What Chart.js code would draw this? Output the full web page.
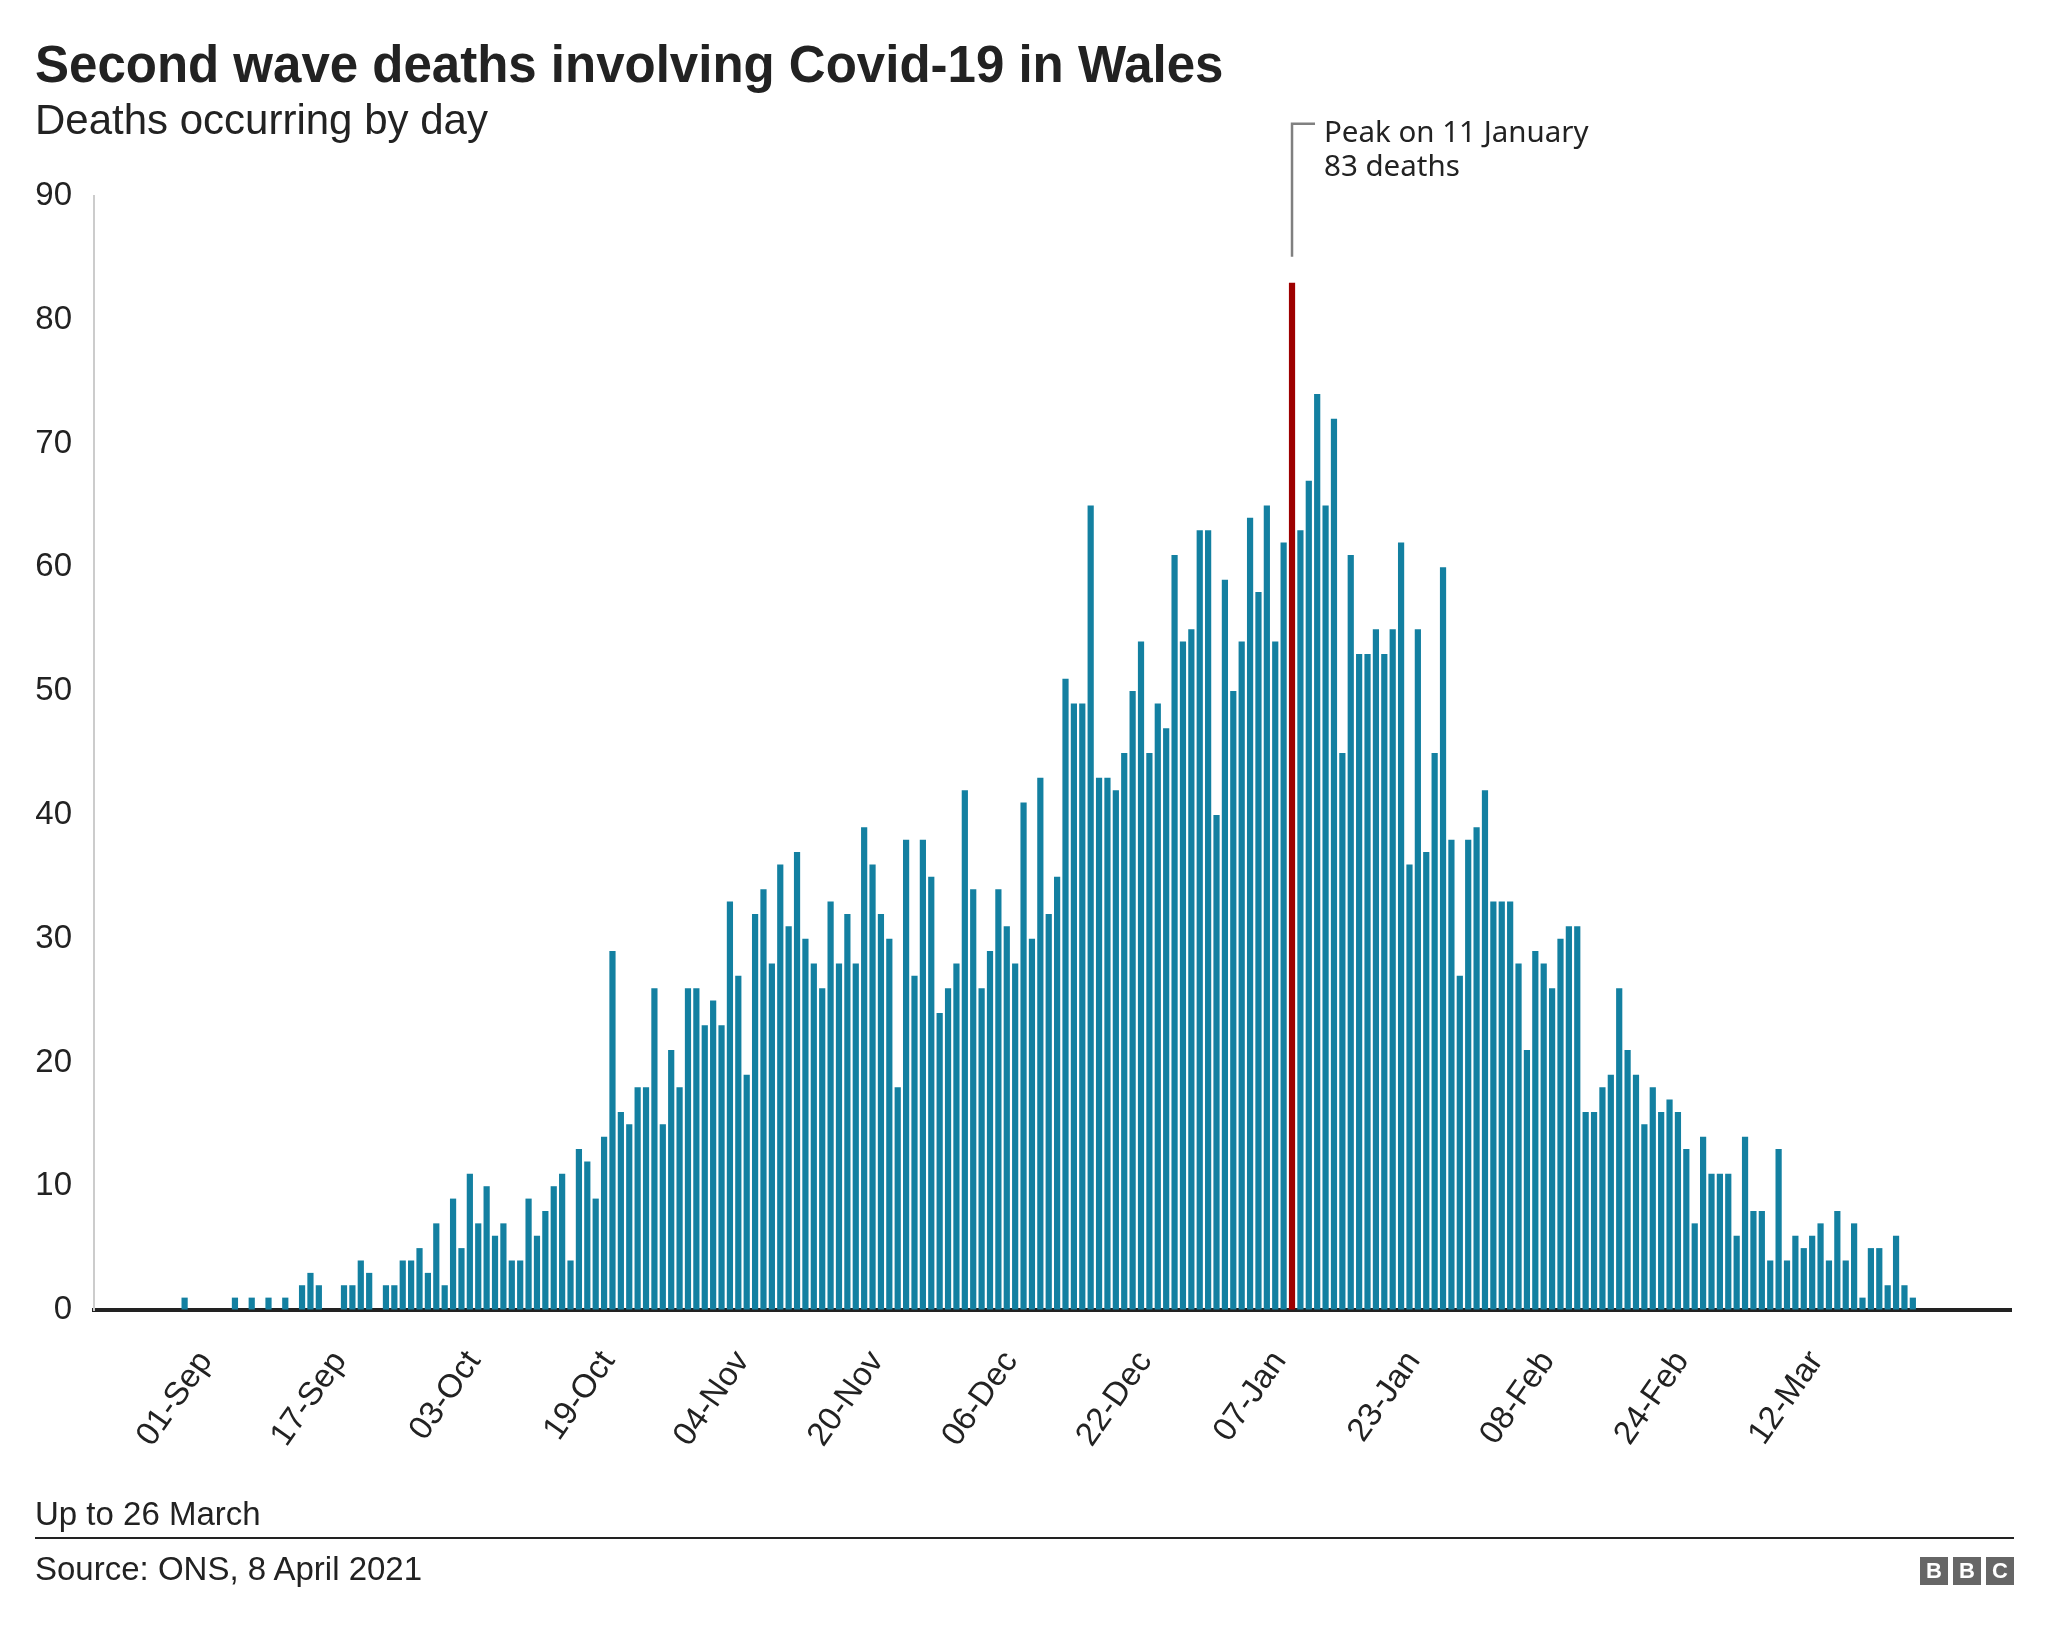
<!DOCTYPE html>
<html lang="en">
<head>
    <meta charset="UTF-8">
    <title>Second wave deaths involving Covid-19 in Wales</title>
    <script src="https://cdn.jsdelivr.net/npm/chart.js"></script>
    <style>
        * {
            margin: 0;
            padding: 0;
            box-sizing: border-box;
        }
        body {
            width: 2048px;
            height: 1630px;
            position: relative;
            overflow: hidden;
            background: #fff;
            color: #222;
            font-family: "Liberation Sans", Arial, Helvetica, sans-serif;
        }
        #chart {
            position: absolute;
            left: 0;
            top: 0;
        }
        .txt {
            position: absolute;
            left: 35px;
            line-height: 1;
            white-space: nowrap;
        }
        #title { top: 39px; font-size: 51px; font-weight: bold; }
        #subtitle { top: 99px; font-size: 42px; }
        #note { top: 1497px; font-size: 33px; }
        #source { top: 1552px; font-size: 33px; }
        /* footer rule */
        .rule {
            position: absolute;
            left: 35px;
            top: 1537px;
            width: 1979px;
            height: 2px;
            background: #222;
        }
        .bbc {
            position: absolute;
            left: 1920px;
            top: 1557px;
            display: flex;
            gap: 5px;
        }
        .bbc span {
            width: 28px;
            height: 28px;
            background: #666;
            color: #fff;
            font: bold 22px "Liberation Sans", Arial, sans-serif;
            display: flex;
            align-items: center;
            justify-content: center;
        }
    </style>
</head>
<body>
    <canvas id="chart" width="2048" height="1630"></canvas>

    <div class="txt" id="title">Second wave deaths involving Covid-19 in Wales</div>
    <div class="txt" id="subtitle">Deaths occurring by day</div>
    <div class="txt" id="note">Up to 26 March</div>
    <div class="rule"></div>
    <div class="txt" id="source">Source: ONS, 8 April 2021</div>
    <div class="bbc"><span>B</span><span>B</span><span>C</span></div>

    <script>
        // deaths per day, starting 01-Sep (index 0) up to 26-Mar (index 206)
        const deaths = [
            1, 0, 0, 0, 0, 0, 1, 0, 1, 0,
            1, 0, 1, 0, 2, 3, 2, 0, 0, 2,
            2, 4, 3, 0, 2, 2, 4, 4, 5, 3,
            7, 2, 9, 5, 11, 7, 10, 6, 7, 4,
            4, 9, 6, 8, 10, 11, 4, 13, 12, 9,
            14, 29, 16, 15, 18, 18, 26, 15, 21, 18,
            26, 26, 23, 25, 23, 33, 27, 19, 32, 34,
            28, 36, 31, 37, 30, 28, 26, 33, 28, 32,
            28, 39, 36, 32, 30, 18, 38, 27, 38, 35,
            24, 26, 28, 42, 34, 26, 29, 34, 31, 28,
            41, 30, 43, 32, 35, 51, 49, 49, 65, 43,
            43, 42, 45, 50, 54, 45, 49, 47, 61, 54,
            55, 63, 63, 40, 59, 50, 54, 64, 58, 65,
            54, 62, 83, 63, 67, 74, 65, 72, 45, 61,
            53, 53, 55, 53, 55, 62, 36, 55, 37, 45,
            60, 38, 27, 38, 39, 42, 33, 33, 33, 28,
            21, 29, 28, 26, 30, 31, 31, 16, 16, 18,
            19, 26, 21, 19, 15, 18, 16, 17, 16, 13,
            7, 14, 11, 11, 11, 6, 14, 8, 8, 4,
            13, 4, 6, 5, 6, 7, 4, 8, 4, 7,
            1, 5, 5, 2, 6, 2, 1
        ];

        // day index of each x label
        const tickDays = [0, 16, 32, 48, 64, 80, 96, 112, 128, 144, 160, 176, 192];
        const tickLabels = ['01-Sep', '17-Sep', '03-Oct', '19-Oct', '04-Nov', '20-Nov', '06-Dec',
                            '22-Dec', '07-Jan', '23-Jan', '08-Feb', '24-Feb', '12-Mar'];
        const yTicks = [0, 10, 20, 30, 40, 50, 60, 70, 80, 90];

        const peakIndex = deaths.indexOf(Math.max(...deaths));
        const peakLabel = 'Peak on 11 January';

        const teal = '#1380a1';
        const red = '#9e0000';
        const tickFont = { family: '"Liberation Sans", Arial, sans-serif', size: 33 };

        // annotation above the peak bar
        const peakNote = {
            id: 'peakNote',
            afterDraw(chart) {
                const { ctx, scales: { x, y } } = chart;
                const px = x.getPixelForValue(peakIndex);
                const barTop = y.getPixelForValue(deaths[peakIndex]);
                const lineTop = barTop - 159;
                ctx.save();
                ctx.strokeStyle = '#808080';
                ctx.lineWidth = 2.5;
                ctx.beginPath();
                ctx.moveTo(px, barTop - 26);
                ctx.lineTo(px, lineTop);
                ctx.lineTo(px + 23, lineTop);
                ctx.stroke();
                ctx.fillStyle = '#222';
                ctx.font = '29.5px "Noto Sans", sans-serif';
                ctx.textBaseline = 'alphabetic';
                ctx.fillText(peakLabel, px + 32, lineTop + 18);
                ctx.fillText(deaths[peakIndex] + ' deaths', px + 32, lineTop + 52);
                ctx.restore();
            }
        };

        const ctx = document.getElementById('chart').getContext('2d');
        new Chart(ctx, {
            type: 'bar',
            data: {
                datasets: [{
                    data: deaths.map((v, i) => ({ x: i, y: v })),
                    backgroundColor: deaths.map((v, i) => i === peakIndex ? red : teal),
                    borderWidth: 0,
                    barPercentage: 0.74,
                    categoryPercentage: 1.0
                }]
            },
            options: {
                responsive: false,
                animation: false,
                layout: { padding: { top: 196, right: 37, bottom: 160, left: 0 } },
                plugins: {
                    legend: { display: false },
                    tooltip: { enabled: false }
                },
                scales: {
                    x: {
                        type: 'linear',
                        min: -10.8,
                        max: 217.7,
                        offset: false,
                        z: 1,
                        grid: { color: 'rgba(0,0,0,0)', drawTicks: false },
                        border: { color: '#222', width: 4 },
                        afterBuildTicks: axis => { axis.ticks = tickDays.map(d => ({ value: d })); },
                        afterFit: axis => { axis.height = 160; },
                        ticks: {
                            autoSkip: false,
                            minRotation: 55,
                            maxRotation: 55,
                            labelOffset: 21,
                            padding: 34,
                            color: '#222',
                            font: tickFont,
                            callback: v => tickLabels[tickDays.indexOf(v)]
                        }
                    },
                    y: {
                        min: 0,
                        max: 90,
                        grid: { color: 'rgba(0,0,0,0)', drawTicks: false },
                        border: { color: '#cccccc', width: 2 },
                        afterBuildTicks: axis => { axis.ticks = yTicks.map(v => ({ value: v })); },
                        afterFit: axis => { axis.width = 94; },
                        ticks: {
                            padding: 22,
                            color: '#222',
                            font: tickFont
                        }
                    }
                }
            },
            plugins: [peakNote]
        });
    </script>
</body>
</html>
